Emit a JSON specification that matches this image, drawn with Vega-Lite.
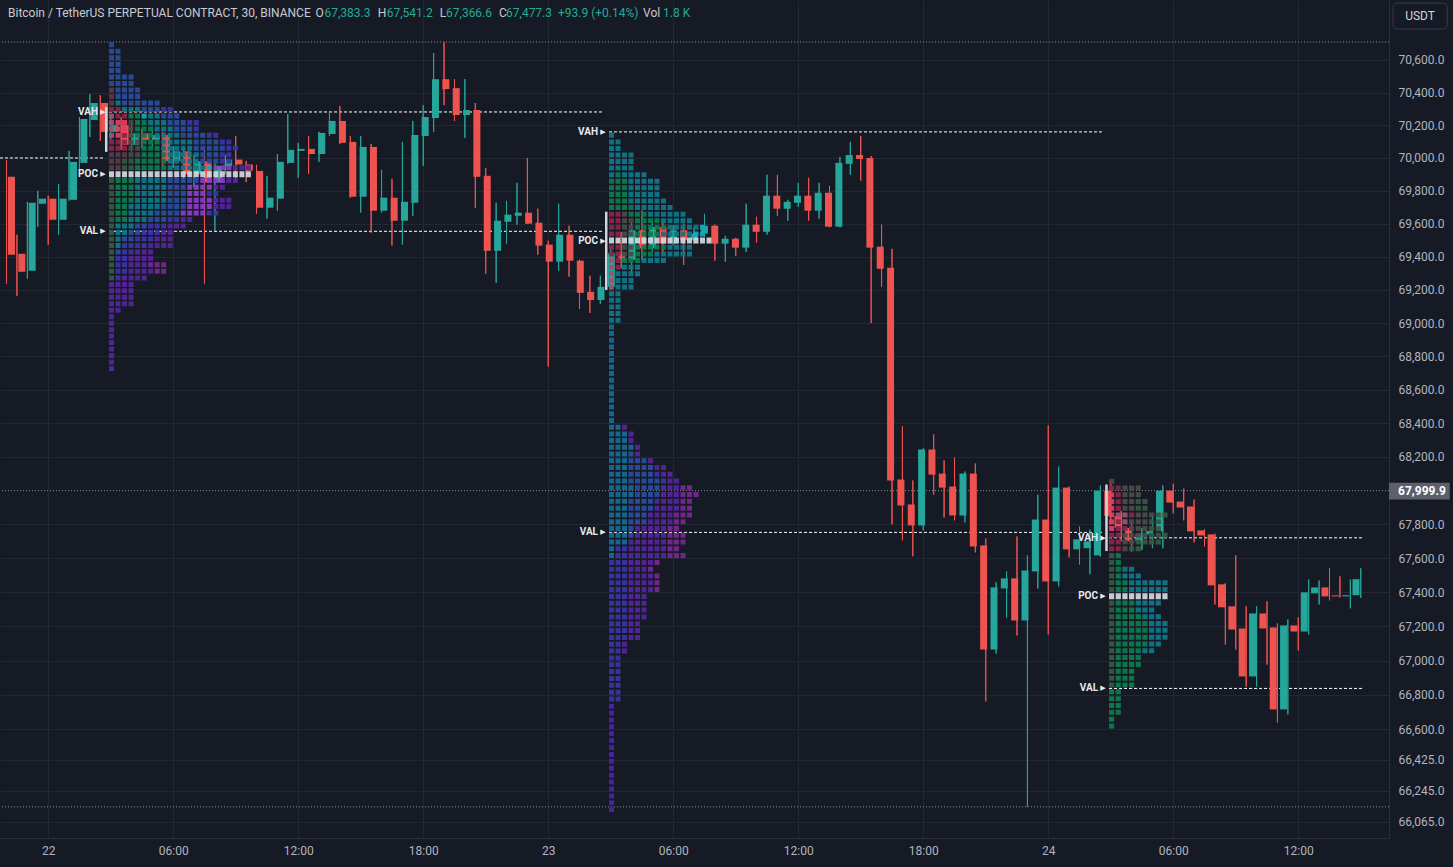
{
"$schema":"https://vega.github.io/schema/vega-lite/v6.json",
"width":1389,"height":838,
"autosize":"none",
"padding":{"left":0,"top":0,"right":64,"bottom":29},
"background":"#161a25",
"config":{"view":{"stroke":null},"axis":{"labelFont":"Roboto","labelFontSize":12,"labelColor":"#b2b5be","gridColor":"#232733","domainColor":"#2a2e39","ticks":false,"title":null,"labelFlush":false,"labelOverlap":false}},
"datasets":{
"candles":[
{"i":-4,"o":69885,"h":69988,"l":69236,"c":69412},
{"i":-3,"o":69418,"h":69533,"l":69164,"c":69309},
{"i":-2,"o":69315,"h":69733,"l":69267,"c":69727},
{"i":-1,"o":69721,"h":69800,"l":69582,"c":69752},
{"i":0,"o":69752,"h":69770,"l":69473,"c":69624},
{"i":1,"o":69624,"h":69842,"l":69533,"c":69752},
{"i":2,"o":69745,"h":70043,"l":69740,"c":69976},
{"i":3,"o":69970,"h":70250,"l":69927,"c":70238},
{"i":4,"o":70232,"h":70390,"l":70128,"c":70336},
{"i":5,"o":70336,"h":70384,"l":70104,"c":70159},
{"i":6,"o":70159,"h":70260,"l":70100,"c":70200},
{"i":7,"o":70200,"h":70250,"l":70050,"c":70080},
{"i":8,"o":70080,"h":70220,"l":70040,"c":70150},
{"i":9,"o":70150,"h":70180,"l":70060,"c":70110},
{"i":10,"o":70110,"h":70190,"l":70070,"c":70140},
{"i":11,"o":70140,"h":70160,"l":69950,"c":69980},
{"i":12,"o":69980,"h":70070,"l":69940,"c":70040},
{"i":13,"o":70040,"h":70060,"l":69850,"c":69900},
{"i":14,"o":69900,"h":70020,"l":69820,"c":69980},
{"i":15,"o":69980,"h":70060,"l":69237,"c":69850},
{"i":16,"o":69850,"h":69990,"l":69557,"c":69950},
{"i":17,"o":69950,"h":70020,"l":69900,"c":69990},
{"i":18,"o":69990,"h":70133,"l":69852,"c":69960},
{"i":19,"o":69960,"h":69982,"l":69852,"c":69922},
{"i":20,"o":69921,"h":69958,"l":69661,"c":69697},
{"i":21,"o":69697,"h":69891,"l":69630,"c":69758},
{"i":22,"o":69752,"h":70024,"l":69679,"c":69976},
{"i":23,"o":69970,"h":70268,"l":69965,"c":70049},
{"i":24,"o":70043,"h":70092,"l":69879,"c":70055},
{"i":25,"o":70055,"h":70134,"l":69903,"c":70024},
{"i":26,"o":70024,"h":70159,"l":69976,"c":70153},
{"i":27,"o":70146,"h":70281,"l":70134,"c":70226},
{"i":28,"o":70226,"h":70317,"l":70085,"c":70092},
{"i":29,"o":70098,"h":70134,"l":69758,"c":69764},
{"i":30,"o":69764,"h":70134,"l":69667,"c":70067},
{"i":31,"o":70067,"h":70085,"l":69545,"c":69679},
{"i":32,"o":69679,"h":69927,"l":69667,"c":69758},
{"i":33,"o":69758,"h":69873,"l":69467,"c":69618},
{"i":34,"o":69618,"h":70098,"l":69473,"c":69733},
{"i":35,"o":69727,"h":70226,"l":69648,"c":70140},
{"i":36,"o":70134,"h":70323,"l":69952,"c":70250},
{"i":37,"o":70244,"h":70643,"l":70159,"c":70482},
{"i":38,"o":70482,"h":70711,"l":70323,"c":70421},
{"i":39,"o":70427,"h":70482,"l":70226,"c":70262},
{"i":40,"o":70262,"h":70482,"l":70122,"c":70293},
{"i":41,"o":70293,"h":70336,"l":69697,"c":69885},
{"i":42,"o":69891,"h":69939,"l":69297,"c":69436},
{"i":43,"o":69436,"h":69727,"l":69242,"c":69618},
{"i":44,"o":69612,"h":69739,"l":69479,"c":69655},
{"i":45,"o":69648,"h":69848,"l":69594,"c":69667},
{"i":46,"o":69667,"h":70000,"l":69598,"c":69600},
{"i":47,"o":69606,"h":69691,"l":69412,"c":69467},
{"i":48,"o":69473,"h":69497,"l":68739,"c":69370},
{"i":49,"o":69370,"h":69721,"l":69315,"c":69533},
{"i":50,"o":69533,"h":69588,"l":69279,"c":69376},
{"i":51,"o":69376,"h":69382,"l":69085,"c":69182},
{"i":52,"o":69188,"h":69285,"l":69061,"c":69139},
{"i":53,"o":69139,"h":69285,"l":69115,"c":69218},
{"i":54,"o":69218,"h":69460,"l":69200,"c":69420},
{"i":55,"o":69420,"h":69550,"l":69330,"c":69380},
{"i":56,"o":69380,"h":69610,"l":69300,"c":69560},
{"i":57,"o":69560,"h":69680,"l":69380,"c":69450},
{"i":58,"o":69450,"h":69620,"l":69430,"c":69580},
{"i":59,"o":69580,"h":69610,"l":69420,"c":69480},
{"i":60,"o":69480,"h":69590,"l":69470,"c":69560},
{"i":61,"o":69560,"h":69600,"l":69350,"c":69500},
{"i":62,"o":69500,"h":69580,"l":69480,"c":69540},
{"i":63,"o":69540,"h":69660,"l":69520,"c":69588},
{"i":64,"o":69588,"h":69594,"l":69376,"c":69479},
{"i":65,"o":69479,"h":69527,"l":69370,"c":69509},
{"i":66,"o":69509,"h":69515,"l":69406,"c":69455},
{"i":67,"o":69455,"h":69721,"l":69430,"c":69594},
{"i":68,"o":69594,"h":69642,"l":69485,"c":69551},
{"i":69,"o":69551,"h":69897,"l":69533,"c":69770},
{"i":70,"o":69770,"h":69897,"l":69648,"c":69691},
{"i":71,"o":69691,"h":69745,"l":69618,"c":69733},
{"i":72,"o":69727,"h":69848,"l":69703,"c":69770},
{"i":73,"o":69770,"h":69879,"l":69618,"c":69679},
{"i":74,"o":69679,"h":69848,"l":69630,"c":69788},
{"i":75,"o":69788,"h":69830,"l":69578,"c":69582},
{"i":76,"o":69582,"h":70006,"l":69578,"c":69970},
{"i":77,"o":69964,"h":70098,"l":69897,"c":70018},
{"i":78,"o":70018,"h":70134,"l":69861,"c":69994},
{"i":79,"o":70000,"h":70012,"l":69000,"c":69455},
{"i":80,"o":69461,"h":69594,"l":69218,"c":69327},
{"i":81,"o":69333,"h":69448,"l":67800,"c":68060},
{"i":82,"o":68066,"h":68381,"l":67706,"c":67912},
{"i":83,"o":67918,"h":68060,"l":67612,"c":67794},
{"i":84,"o":67794,"h":68250,"l":67765,"c":68244},
{"i":85,"o":68244,"h":68334,"l":67976,"c":68095},
{"i":86,"o":68101,"h":68179,"l":67841,"c":68018},
{"i":87,"o":68024,"h":68197,"l":67824,"c":67853},
{"i":88,"o":67853,"h":68113,"l":67812,"c":68101},
{"i":89,"o":68101,"h":68161,"l":67635,"c":67670},
{"i":90,"o":67676,"h":67717,"l":66762,"c":67065},
{"i":91,"o":67065,"h":67459,"l":67041,"c":67429},
{"i":92,"o":67423,"h":67523,"l":67253,"c":67482},
{"i":93,"o":67482,"h":67729,"l":67147,"c":67235},
{"i":94,"o":67235,"h":67617,"l":66152,"c":67529},
{"i":95,"o":67523,"h":67976,"l":67423,"c":67829},
{"i":96,"o":67829,"h":68387,"l":67153,"c":67464},
{"i":97,"o":67464,"h":68143,"l":67435,"c":68018},
{"i":98,"o":68018,"h":68024,"l":67606,"c":67653},
{"i":99,"o":67653,"h":67788,"l":67564,"c":67712},
{"i":100,"o":67660,"h":67770,"l":67506,"c":67700},
{"i":101,"o":67617,"h":68030,"l":67610,"c":68000},
{"i":102,"o":68000,"h":68040,"l":67800,"c":67850},
{"i":103,"o":67850,"h":67880,"l":67700,"c":67780},
{"i":104,"o":67780,"h":67820,"l":67640,"c":67700},
{"i":105,"o":67700,"h":67780,"l":67650,"c":67740},
{"i":106,"o":67740,"h":67850,"l":67660,"c":67760},
{"i":107,"o":67760,"h":68030,"l":67659,"c":68000},
{"i":108,"o":68000,"h":68041,"l":67865,"c":67929},
{"i":109,"o":67935,"h":68012,"l":67824,"c":67900},
{"i":110,"o":67906,"h":67947,"l":67694,"c":67759},
{"i":111,"o":67765,"h":67771,"l":67670,"c":67735},
{"i":112,"o":67741,"h":67745,"l":67329,"c":67441},
{"i":113,"o":67447,"h":67453,"l":67094,"c":67312},
{"i":114,"o":67318,"h":67617,"l":67065,"c":67182},
{"i":115,"o":67188,"h":67318,"l":66849,"c":66908},
{"i":116,"o":66908,"h":67318,"l":66849,"c":67276},
{"i":117,"o":67276,"h":67347,"l":66977,"c":67188},
{"i":118,"o":67194,"h":67217,"l":66640,"c":66716},
{"i":119,"o":66716,"h":67241,"l":66687,"c":67206},
{"i":120,"o":67206,"h":67253,"l":67059,"c":67170},
{"i":121,"o":67170,"h":67476,"l":67153,"c":67400},
{"i":122,"o":67394,"h":67470,"l":67329,"c":67429},
{"i":123,"o":67429,"h":67541,"l":67353,"c":67376},
{"i":124,"o":67382,"h":67494,"l":67370,"c":67376},
{"i":125,"o":67376,"h":67476,"l":67306,"c":67383},
{"i":126,"o":67383.3,"h":67541.2,"l":67366.6,"c":67477.3}
],
"p1":[
{"p":70694,"a":0,"b":1,"k":"B"},
{"p":70654,"a":0,"b":2,"k":"B"},
{"p":70614,"a":0,"b":2,"k":"B"},
{"p":70574,"a":0,"b":2,"k":"B"},
{"p":70535,"a":0,"b":2,"k":"B"},
{"p":70495,"a":0,"b":4,"k":"B"},
{"p":70455,"a":0,"b":4,"k":"B"},
{"p":70415,"a":0,"b":1,"k":"E"},{"p":70415,"a":1,"b":5,"k":"B"},
{"p":70375,"a":0,"b":1,"k":"E"},{"p":70375,"a":1,"b":5,"k":"B"},
{"p":70336,"a":0,"b":1,"k":"E"},{"p":70336,"a":1,"b":2,"k":"T"},{"p":70336,"a":2,"b":8,"k":"B"},
{"p":70296,"a":0,"b":2,"k":"R"},{"p":70296,"a":2,"b":5,"k":"T"},{"p":70296,"a":5,"b":8,"k":"B"},{"p":70296,"a":8,"b":10,"k":"I"},
{"p":70256,"a":0,"b":1,"k":"Q"},{"p":70256,"a":1,"b":3,"k":"R"},{"p":70256,"a":3,"b":5,"k":"G"},{"p":70256,"a":5,"b":6,"k":"C"},{"p":70256,"a":6,"b":8,"k":"T"},{"p":70256,"a":8,"b":11,"k":"B"},
{"p":70217,"a":0,"b":1,"k":"Q"},{"p":70217,"a":1,"b":3,"k":"K"},{"p":70217,"a":3,"b":4,"k":"E"},{"p":70217,"a":4,"b":6,"k":"G"},{"p":70217,"a":6,"b":9,"k":"T"},{"p":70217,"a":9,"b":12,"k":"B"},{"p":70217,"a":12,"b":14,"k":"I"},
{"p":70177,"a":0,"b":1,"k":"Q"},{"p":70177,"a":1,"b":3,"k":"K"},{"p":70177,"a":3,"b":4,"k":"N"},{"p":70177,"a":4,"b":7,"k":"G"},{"p":70177,"a":7,"b":10,"k":"T"},{"p":70177,"a":10,"b":13,"k":"B"},{"p":70177,"a":13,"b":14,"k":"I"},
{"p":70138,"a":0,"b":1,"k":"Q"},{"p":70138,"a":1,"b":2,"k":"K"},{"p":70138,"a":2,"b":3,"k":"R"},{"p":70138,"a":3,"b":4,"k":"N"},{"p":70138,"a":4,"b":7,"k":"G"},{"p":70138,"a":7,"b":11,"k":"T"},{"p":70138,"a":11,"b":15,"k":"B"},{"p":70138,"a":15,"b":17,"k":"I"},
{"p":70098,"a":0,"b":3,"k":"R"},{"p":70098,"a":3,"b":5,"k":"N"},{"p":70098,"a":5,"b":8,"k":"G"},{"p":70098,"a":8,"b":13,"k":"T"},{"p":70098,"a":13,"b":17,"k":"B"},{"p":70098,"a":17,"b":19,"k":"I"},
{"p":70059,"a":0,"b":3,"k":"R"},{"p":70059,"a":3,"b":5,"k":"N"},{"p":70059,"a":5,"b":8,"k":"G"},{"p":70059,"a":8,"b":13,"k":"T"},{"p":70059,"a":13,"b":18,"k":"B"},{"p":70059,"a":18,"b":20,"k":"I"},
{"p":70019,"a":0,"b":3,"k":"E"},{"p":70019,"a":3,"b":5,"k":"N"},{"p":70019,"a":5,"b":9,"k":"G"},{"p":70019,"a":9,"b":14,"k":"T"},{"p":70019,"a":14,"b":17,"k":"B"},{"p":70019,"a":17,"b":19,"k":"I"},
{"p":69980,"a":0,"b":2,"k":"E"},{"p":69980,"a":2,"b":4,"k":"D"},{"p":69980,"a":4,"b":9,"k":"G"},{"p":69980,"a":9,"b":14,"k":"T"},{"p":69980,"a":14,"b":17,"k":"B"},{"p":69980,"a":17,"b":19,"k":"I"},
{"p":69940,"a":0,"b":2,"k":"E"},{"p":69940,"a":2,"b":4,"k":"D"},{"p":69940,"a":4,"b":9,"k":"G"},{"p":69940,"a":9,"b":15,"k":"T"},{"p":69940,"a":15,"b":16,"k":"C"},{"p":69940,"a":16,"b":19,"k":"V"},{"p":69940,"a":19,"b":22,"k":"P"},
{"p":69901,"a":0,"b":22,"k":"W"},
{"p":69862,"a":0,"b":1,"k":"D"},{"p":69862,"a":1,"b":4,"k":"G"},{"p":69862,"a":4,"b":9,"k":"T"},{"p":69862,"a":9,"b":14,"k":"B"},{"p":69862,"a":14,"b":18,"k":"V"},{"p":69862,"a":18,"b":20,"k":"P"},
{"p":69822,"a":0,"b":1,"k":"D"},{"p":69822,"a":1,"b":4,"k":"G"},{"p":69822,"a":4,"b":9,"k":"T"},{"p":69822,"a":9,"b":12,"k":"B"},{"p":69822,"a":12,"b":16,"k":"V"},{"p":69822,"a":16,"b":18,"k":"P"},
{"p":69783,"a":0,"b":1,"k":"D"},{"p":69783,"a":1,"b":4,"k":"G"},{"p":69783,"a":4,"b":9,"k":"T"},{"p":69783,"a":9,"b":12,"k":"B"},{"p":69783,"a":12,"b":15,"k":"V"},{"p":69783,"a":15,"b":17,"k":"I"},
{"p":69743,"a":0,"b":1,"k":"D"},{"p":69743,"a":1,"b":4,"k":"G"},{"p":69743,"a":4,"b":9,"k":"T"},{"p":69743,"a":9,"b":12,"k":"B"},{"p":69743,"a":12,"b":16,"k":"V"},{"p":69743,"a":16,"b":19,"k":"P"},
{"p":69704,"a":0,"b":1,"k":"D"},{"p":69704,"a":1,"b":3,"k":"G"},{"p":69704,"a":3,"b":8,"k":"T"},{"p":69704,"a":8,"b":12,"k":"B"},{"p":69704,"a":12,"b":16,"k":"V"},{"p":69704,"a":16,"b":19,"k":"P"},
{"p":69665,"a":0,"b":1,"k":"D"},{"p":69665,"a":1,"b":3,"k":"G"},{"p":69665,"a":3,"b":7,"k":"T"},{"p":69665,"a":7,"b":11,"k":"B"},{"p":69665,"a":11,"b":15,"k":"V"},{"p":69665,"a":15,"b":17,"k":"I"},
{"p":69625,"a":0,"b":1,"k":"D"},{"p":69625,"a":1,"b":3,"k":"G"},{"p":69625,"a":3,"b":6,"k":"T"},{"p":69625,"a":6,"b":9,"k":"B"},{"p":69625,"a":9,"b":11,"k":"I"},{"p":69625,"a":11,"b":13,"k":"P"},
{"p":69586,"a":0,"b":1,"k":"D"},{"p":69586,"a":1,"b":4,"k":"T"},{"p":69586,"a":4,"b":6,"k":"B"},{"p":69586,"a":6,"b":9,"k":"I"},{"p":69586,"a":9,"b":12,"k":"P"},
{"p":69546,"a":0,"b":1,"k":"D"},{"p":69546,"a":1,"b":3,"k":"T"},{"p":69546,"a":3,"b":5,"k":"B"},{"p":69546,"a":5,"b":8,"k":"I"},{"p":69546,"a":8,"b":10,"k":"P"},
{"p":69507,"a":0,"b":1,"k":"D"},{"p":69507,"a":1,"b":2,"k":"T"},{"p":69507,"a":2,"b":4,"k":"B"},{"p":69507,"a":4,"b":7,"k":"I"},{"p":69507,"a":7,"b":10,"k":"P"},
{"p":69468,"a":0,"b":1,"k":"D"},{"p":69468,"a":1,"b":2,"k":"T"},{"p":69468,"a":2,"b":6,"k":"I"},{"p":69468,"a":6,"b":10,"k":"P"},
{"p":69429,"a":0,"b":1,"k":"D"},{"p":69429,"a":1,"b":2,"k":"B"},{"p":69429,"a":2,"b":4,"k":"I"},{"p":69429,"a":4,"b":7,"k":"P"},
{"p":69390,"a":0,"b":1,"k":"D"},{"p":69390,"a":1,"b":3,"k":"I"},{"p":69390,"a":3,"b":7,"k":"P"},
{"p":69351,"a":0,"b":1,"k":"D"},{"p":69351,"a":1,"b":3,"k":"I"},{"p":69351,"a":3,"b":6,"k":"P"},{"p":69351,"a":6,"b":9,"k":"M"},
{"p":69312,"a":0,"b":1,"k":"D"},{"p":69312,"a":1,"b":3,"k":"I"},{"p":69312,"a":3,"b":7,"k":"P"},{"p":69312,"a":7,"b":9,"k":"M"},
{"p":69272,"a":0,"b":1,"k":"D"},{"p":69272,"a":1,"b":2,"k":"I"},{"p":69272,"a":2,"b":6,"k":"P"},
{"p":69233,"a":0,"b":4,"k":"P"},
{"p":69194,"a":0,"b":4,"k":"P"},
{"p":69155,"a":0,"b":4,"k":"P"},
{"p":69116,"a":0,"b":4,"k":"P"},
{"p":69077,"a":0,"b":2,"k":"P"},
{"p":69038,"a":0,"b":1,"k":"P"},
{"p":68999,"a":0,"b":1,"k":"P"},
{"p":68960,"a":0,"b":1,"k":"P"},
{"p":68922,"a":0,"b":1,"k":"P"},
{"p":68883,"a":0,"b":1,"k":"P"},
{"p":68844,"a":0,"b":1,"k":"P"},
{"p":68805,"a":0,"b":1,"k":"P"},
{"p":68766,"a":0,"b":1,"k":"P"},
{"p":68727,"a":0,"b":1,"k":"P"}
],
"p2":[
{"p":70138,"a":0,"b":1,"k":"T"},
{"p":70098,"a":0,"b":2,"k":"T"},
{"p":70058,"a":0,"b":2,"k":"T"},
{"p":70018,"a":0,"b":4,"k":"T"},
{"p":69978,"a":0,"b":4,"k":"T"},
{"p":69938,"a":0,"b":4,"k":"T"},
{"p":69898,"a":0,"b":1,"k":"T"},{"p":69898,"a":1,"b":2,"k":"G"},{"p":69898,"a":2,"b":6,"k":"T"},
{"p":69858,"a":0,"b":3,"k":"G"},{"p":69858,"a":3,"b":8,"k":"T"},
{"p":69818,"a":0,"b":3,"k":"G"},{"p":69818,"a":3,"b":8,"k":"T"},
{"p":69778,"a":0,"b":3,"k":"G"},{"p":69778,"a":3,"b":8,"k":"T"},
{"p":69738,"a":0,"b":3,"k":"G"},{"p":69738,"a":3,"b":9,"k":"T"},
{"p":69698,"a":0,"b":4,"k":"G"},{"p":69698,"a":4,"b":10,"k":"T"},
{"p":69658,"a":0,"b":2,"k":"R"},{"p":69658,"a":2,"b":3,"k":"N"},{"p":69658,"a":3,"b":6,"k":"G"},{"p":69658,"a":6,"b":12,"k":"T"},
{"p":69618,"a":0,"b":2,"k":"R"},{"p":69618,"a":2,"b":4,"k":"N"},{"p":69618,"a":4,"b":8,"k":"G"},{"p":69618,"a":8,"b":13,"k":"T"},
{"p":69578,"a":0,"b":2,"k":"R"},{"p":69578,"a":2,"b":4,"k":"N"},{"p":69578,"a":4,"b":9,"k":"G"},{"p":69578,"a":9,"b":14,"k":"T"},{"p":69578,"a":14,"b":15,"k":"C"},
{"p":69538,"a":0,"b":2,"k":"R"},{"p":69538,"a":2,"b":4,"k":"N"},{"p":69538,"a":4,"b":8,"k":"G"},{"p":69538,"a":8,"b":13,"k":"T"},{"p":69538,"a":13,"b":15,"k":"C"},
{"p":69498,"a":0,"b":16,"k":"W"},
{"p":69457,"a":0,"b":2,"k":"R"},{"p":69457,"a":2,"b":4,"k":"N"},{"p":69457,"a":4,"b":9,"k":"G"},{"p":69457,"a":9,"b":13,"k":"T"},
{"p":69417,"a":0,"b":2,"k":"R"},{"p":69417,"a":2,"b":4,"k":"N"},{"p":69417,"a":4,"b":7,"k":"G"},{"p":69417,"a":7,"b":13,"k":"T"},
{"p":69377,"a":0,"b":1,"k":"Q"},{"p":69377,"a":1,"b":2,"k":"R"},{"p":69377,"a":2,"b":5,"k":"G"},{"p":69377,"a":5,"b":9,"k":"T"},
{"p":69337,"a":0,"b":1,"k":"Q"},{"p":69337,"a":1,"b":2,"k":"R"},{"p":69337,"a":2,"b":5,"k":"T"},
{"p":69297,"a":0,"b":1,"k":"Q"},{"p":69297,"a":1,"b":5,"k":"T"},
{"p":69257,"a":0,"b":1,"k":"Q"},{"p":69257,"a":1,"b":4,"k":"T"},
{"p":69217,"a":0,"b":1,"k":"Q"},{"p":69217,"a":1,"b":4,"k":"T"},
{"p":69177,"a":0,"b":2,"k":"T"},
{"p":69137,"a":0,"b":2,"k":"T"},
{"p":69097,"a":0,"b":2,"k":"T"},
{"p":69057,"a":0,"b":2,"k":"T"},
{"p":69017,"a":0,"b":2,"k":"T"},
{"p":68977,"a":0,"b":1,"k":"U"},
{"p":68937,"a":0,"b":1,"k":"U"},
{"p":68897,"a":0,"b":1,"k":"U"},
{"p":68857,"a":0,"b":1,"k":"U"},
{"p":68817,"a":0,"b":1,"k":"U"},
{"p":68777,"a":0,"b":1,"k":"U"},
{"p":68737,"a":0,"b":1,"k":"U"},
{"p":68697,"a":0,"b":1,"k":"U"},
{"p":68657,"a":0,"b":1,"k":"U"},
{"p":68617,"a":0,"b":1,"k":"U"},
{"p":68577,"a":0,"b":1,"k":"U"},
{"p":68537,"a":0,"b":1,"k":"U"},
{"p":68497,"a":0,"b":1,"k":"U"},
{"p":68457,"a":0,"b":1,"k":"U"},
{"p":68417,"a":0,"b":1,"k":"U"},
{"p":68377,"a":0,"b":2,"k":"U"},{"p":68377,"a":2,"b":3,"k":"P"},
{"p":68337,"a":0,"b":3,"k":"U"},{"p":68337,"a":3,"b":4,"k":"P"},
{"p":68297,"a":0,"b":3,"k":"U"},{"p":68297,"a":3,"b":4,"k":"P"},
{"p":68257,"a":0,"b":4,"k":"U"},{"p":68257,"a":4,"b":5,"k":"P"},
{"p":68217,"a":0,"b":3,"k":"U"},{"p":68217,"a":3,"b":4,"k":"B"},{"p":68217,"a":4,"b":5,"k":"P"},
{"p":68177,"a":0,"b":3,"k":"U"},{"p":68177,"a":3,"b":6,"k":"B"},{"p":68177,"a":6,"b":7,"k":"P"},
{"p":68137,"a":0,"b":3,"k":"U"},{"p":68137,"a":3,"b":7,"k":"B"},{"p":68137,"a":7,"b":9,"k":"P"},
{"p":68097,"a":0,"b":3,"k":"U"},{"p":68097,"a":3,"b":7,"k":"B"},{"p":68097,"a":7,"b":8,"k":"I"},{"p":68097,"a":8,"b":10,"k":"P"},
{"p":68057,"a":0,"b":3,"k":"U"},{"p":68057,"a":3,"b":8,"k":"B"},{"p":68057,"a":8,"b":9,"k":"I"},{"p":68057,"a":9,"b":11,"k":"P"},
{"p":68017,"a":0,"b":4,"k":"U"},{"p":68017,"a":4,"b":8,"k":"B"},{"p":68017,"a":8,"b":11,"k":"P"},{"p":68017,"a":11,"b":13,"k":"M"},
{"p":67977,"a":0,"b":4,"k":"U"},{"p":67977,"a":4,"b":8,"k":"B"},{"p":67977,"a":8,"b":11,"k":"P"},{"p":67977,"a":11,"b":14,"k":"M"},
{"p":67937,"a":0,"b":3,"k":"U"},{"p":67937,"a":3,"b":7,"k":"B"},{"p":67937,"a":7,"b":11,"k":"P"},{"p":67937,"a":11,"b":13,"k":"M"},
{"p":67896,"a":0,"b":3,"k":"U"},{"p":67896,"a":3,"b":7,"k":"B"},{"p":67896,"a":7,"b":11,"k":"P"},{"p":67896,"a":11,"b":13,"k":"M"},
{"p":67856,"a":0,"b":3,"k":"U"},{"p":67856,"a":3,"b":6,"k":"B"},{"p":67856,"a":6,"b":10,"k":"P"},{"p":67856,"a":10,"b":13,"k":"M"},
{"p":67816,"a":0,"b":3,"k":"U"},{"p":67816,"a":3,"b":6,"k":"B"},{"p":67816,"a":6,"b":10,"k":"P"},{"p":67816,"a":10,"b":12,"k":"M"},
{"p":67776,"a":0,"b":3,"k":"U"},{"p":67776,"a":3,"b":4,"k":"B"},{"p":67776,"a":4,"b":9,"k":"P"},{"p":67776,"a":9,"b":11,"k":"M"},
{"p":67736,"a":0,"b":3,"k":"U"},{"p":67736,"a":3,"b":4,"k":"B"},{"p":67736,"a":4,"b":9,"k":"P"},{"p":67736,"a":9,"b":12,"k":"M"},
{"p":67696,"a":0,"b":3,"k":"U"},{"p":67696,"a":3,"b":9,"k":"P"},{"p":67696,"a":9,"b":12,"k":"M"},
{"p":67656,"a":0,"b":1,"k":"U"},{"p":67656,"a":1,"b":3,"k":"I"},{"p":67656,"a":3,"b":9,"k":"P"},{"p":67656,"a":9,"b":11,"k":"M"},
{"p":67616,"a":0,"b":1,"k":"U"},{"p":67616,"a":1,"b":3,"k":"I"},{"p":67616,"a":3,"b":9,"k":"P"},{"p":67616,"a":9,"b":12,"k":"M"},
{"p":67576,"a":0,"b":3,"k":"I"},{"p":67576,"a":3,"b":7,"k":"P"},{"p":67576,"a":7,"b":8,"k":"M"},
{"p":67536,"a":0,"b":3,"k":"I"},{"p":67536,"a":3,"b":6,"k":"P"},{"p":67536,"a":6,"b":7,"k":"M"},
{"p":67496,"a":0,"b":3,"k":"I"},{"p":67496,"a":3,"b":7,"k":"P"},{"p":67496,"a":7,"b":8,"k":"M"},
{"p":67456,"a":0,"b":3,"k":"I"},{"p":67456,"a":3,"b":7,"k":"P"},{"p":67456,"a":7,"b":8,"k":"M"},
{"p":67416,"a":0,"b":3,"k":"I"},{"p":67416,"a":3,"b":7,"k":"P"},{"p":67416,"a":7,"b":8,"k":"M"},
{"p":67376,"a":0,"b":3,"k":"I"},{"p":67376,"a":3,"b":6,"k":"P"},
{"p":67336,"a":0,"b":3,"k":"I"},{"p":67336,"a":3,"b":6,"k":"P"},
{"p":67296,"a":0,"b":3,"k":"I"},{"p":67296,"a":3,"b":6,"k":"P"},
{"p":67256,"a":0,"b":3,"k":"I"},{"p":67256,"a":3,"b":6,"k":"P"},
{"p":67216,"a":0,"b":3,"k":"I"},{"p":67216,"a":3,"b":5,"k":"P"},
{"p":67176,"a":0,"b":3,"k":"I"},{"p":67176,"a":3,"b":5,"k":"P"},
{"p":67136,"a":0,"b":3,"k":"I"},{"p":67136,"a":3,"b":5,"k":"P"},
{"p":67096,"a":0,"b":2,"k":"I"},{"p":67096,"a":2,"b":3,"k":"P"},
{"p":67056,"a":0,"b":2,"k":"I"},{"p":67056,"a":2,"b":3,"k":"P"},
{"p":67016,"a":0,"b":2,"k":"I"},
{"p":66976,"a":0,"b":2,"k":"I"},
{"p":66936,"a":0,"b":2,"k":"I"},
{"p":66896,"a":0,"b":2,"k":"I"},
{"p":66856,"a":0,"b":2,"k":"I"},
{"p":66816,"a":0,"b":2,"k":"I"},
{"p":66776,"a":0,"b":2,"k":"I"},
{"p":66735,"a":0,"b":1,"k":"J"},
{"p":66695,"a":0,"b":1,"k":"J"},
{"p":66655,"a":0,"b":1,"k":"J"},
{"p":66615,"a":0,"b":1,"k":"J"},
{"p":66575,"a":0,"b":1,"k":"J"},
{"p":66535,"a":0,"b":1,"k":"J"},
{"p":66495,"a":0,"b":1,"k":"J"},
{"p":66455,"a":0,"b":1,"k":"J"},
{"p":66415,"a":0,"b":1,"k":"J"},
{"p":66375,"a":0,"b":1,"k":"J"},
{"p":66335,"a":0,"b":1,"k":"J"},
{"p":66295,"a":0,"b":1,"k":"J"},
{"p":66255,"a":0,"b":1,"k":"J"},
{"p":66215,"a":0,"b":1,"k":"J"},
{"p":66175,"a":0,"b":1,"k":"J"},
{"p":66135,"a":0,"b":1,"k":"J"}
],
"p3":[
{"p":68055,"a":0,"b":1,"k":"N"},
{"p":68015,"a":0,"b":1,"k":"R"},{"p":68015,"a":1,"b":2,"k":"E"},{"p":68015,"a":2,"b":5,"k":"N"},
{"p":67975,"a":0,"b":1,"k":"K"},{"p":67975,"a":1,"b":2,"k":"R"},{"p":67975,"a":2,"b":5,"k":"N"},
{"p":67935,"a":0,"b":1,"k":"K"},{"p":67935,"a":1,"b":2,"k":"R"},{"p":67935,"a":2,"b":4,"k":"N"},{"p":67935,"a":4,"b":6,"k":"D"},
{"p":67895,"a":0,"b":1,"k":"K"},{"p":67895,"a":1,"b":2,"k":"R"},{"p":67895,"a":2,"b":4,"k":"N"},{"p":67895,"a":4,"b":6,"k":"D"},
{"p":67856,"a":0,"b":1,"k":"K"},{"p":67856,"a":1,"b":3,"k":"Q"},{"p":67856,"a":3,"b":4,"k":"R"},{"p":67856,"a":4,"b":7,"k":"N"},{"p":67856,"a":7,"b":9,"k":"D"},
{"p":67816,"a":0,"b":1,"k":"K"},{"p":67816,"a":1,"b":2,"k":"R"},{"p":67816,"a":2,"b":3,"k":"Q"},{"p":67816,"a":3,"b":6,"k":"N"},{"p":67816,"a":6,"b":8,"k":"D"},
{"p":67776,"a":0,"b":1,"k":"K"},{"p":67776,"a":1,"b":3,"k":"R"},{"p":67776,"a":3,"b":6,"k":"N"},{"p":67776,"a":6,"b":8,"k":"D"},
{"p":67736,"a":0,"b":2,"k":"R"},{"p":67736,"a":2,"b":5,"k":"N"},{"p":67736,"a":5,"b":9,"k":"D"},
{"p":67696,"a":0,"b":2,"k":"R"},{"p":67696,"a":2,"b":4,"k":"N"},{"p":67696,"a":4,"b":8,"k":"D"},
{"p":67656,"a":0,"b":2,"k":"R"},{"p":67656,"a":2,"b":3,"k":"N"},{"p":67656,"a":3,"b":5,"k":"D"},
{"p":67616,"a":0,"b":1,"k":"D"},{"p":67616,"a":1,"b":2,"k":"G"},
{"p":67576,"a":0,"b":1,"k":"D"},{"p":67576,"a":1,"b":2,"k":"G"},
{"p":67536,"a":0,"b":1,"k":"D"},{"p":67536,"a":1,"b":2,"k":"G"},{"p":67536,"a":2,"b":4,"k":"T"},
{"p":67496,"a":0,"b":1,"k":"D"},{"p":67496,"a":1,"b":2,"k":"G"},{"p":67496,"a":2,"b":5,"k":"T"},
{"p":67457,"a":0,"b":1,"k":"D"},{"p":67457,"a":1,"b":3,"k":"G"},{"p":67457,"a":3,"b":9,"k":"T"},
{"p":67417,"a":0,"b":1,"k":"D"},{"p":67417,"a":1,"b":3,"k":"G"},{"p":67417,"a":3,"b":9,"k":"T"},
{"p":67377,"a":0,"b":9,"k":"W"},
{"p":67337,"a":0,"b":1,"k":"D"},{"p":67337,"a":1,"b":4,"k":"G"},{"p":67337,"a":4,"b":8,"k":"T"},
{"p":67297,"a":0,"b":1,"k":"D"},{"p":67297,"a":1,"b":4,"k":"G"},{"p":67297,"a":4,"b":7,"k":"T"},
{"p":67257,"a":0,"b":1,"k":"D"},{"p":67257,"a":1,"b":5,"k":"G"},{"p":67257,"a":5,"b":8,"k":"T"},
{"p":67217,"a":0,"b":1,"k":"D"},{"p":67217,"a":1,"b":6,"k":"G"},{"p":67217,"a":6,"b":9,"k":"T"},
{"p":67177,"a":0,"b":1,"k":"D"},{"p":67177,"a":1,"b":6,"k":"G"},{"p":67177,"a":6,"b":9,"k":"T"},
{"p":67137,"a":0,"b":1,"k":"D"},{"p":67137,"a":1,"b":6,"k":"G"},{"p":67137,"a":6,"b":9,"k":"T"},
{"p":67098,"a":0,"b":1,"k":"D"},{"p":67098,"a":1,"b":6,"k":"G"},{"p":67098,"a":6,"b":8,"k":"T"},
{"p":67058,"a":0,"b":1,"k":"D"},{"p":67058,"a":1,"b":5,"k":"G"},{"p":67058,"a":5,"b":7,"k":"T"},
{"p":67018,"a":0,"b":1,"k":"D"},{"p":67018,"a":1,"b":5,"k":"G"},
{"p":66978,"a":0,"b":1,"k":"D"},{"p":66978,"a":1,"b":5,"k":"G"},
{"p":66938,"a":0,"b":1,"k":"D"},{"p":66938,"a":1,"b":4,"k":"G"},
{"p":66898,"a":0,"b":1,"k":"D"},{"p":66898,"a":1,"b":4,"k":"G"},
{"p":66858,"a":0,"b":1,"k":"D"},{"p":66858,"a":1,"b":4,"k":"G"},
{"p":66818,"a":0,"b":2,"k":"G"},
{"p":66778,"a":0,"b":2,"k":"G"},
{"p":66738,"a":0,"b":2,"k":"G"},
{"p":66699,"a":0,"b":2,"k":"G"},
{"p":66659,"a":0,"b":1,"k":"G"},
{"p":66619,"a":0,"b":1,"k":"G"}
],
"lev":[
{"t":"VAH","p":70281,"x0":5.837,"x1":53.26},
{"t":"POC","p":69901,"x0":5.837,"x1":5.837},
{"t":"VAL","p":69554,"x0":5.837,"x1":53.26},
{"t":"VAH","p":70159,"x0":53.836,"x1":101.26},
{"t":"POC","p":69498,"x0":53.836,"x1":53.836},
{"t":"VAL","p":67753,"x0":53.836,"x1":101.26},
{"t":"VAH","p":67721,"x0":101.835,"x1":126.2},
{"t":"POC","p":67377,"x0":101.835,"x1":101.835},
{"t":"VAL","p":66838,"x0":101.835,"x1":126.2},
{"t":"","p":70000,"x0":-4.63,"x1":5.27}
],
"wb":[
{"x":5.568,"p0":70311,"p1":70037},
{"x":53.568,"p0":69673,"p1":69200},
{"x":101.59,"p0":68036,"p1":67643}
],
"hl":[{"p":70711},{"p":66152},{"p":67999.9}]
},
"resolve":{"scale":{"x":"independent"}},
"layer":[
{"data":{"name":"candles"},"mark":{"type":"rule","strokeWidth":1},
 "encoding":{
  "x":{"field":"i","type":"quantitative","scale":{"domain":[-4.627,128.71],"nice":false,"zero":false},
   "axis":{"orient":"bottom","values":[0,12,24,36,48,60,72,84,96,108,120],"labelExpr":"['22','06:00','12:00','18:00','23','06:00','12:00','18:00','24','06:00','12:00'][round(datum.value/12)]","grid":true,"labelPadding":7,"domain":true,"title":null}},
  "y":{"field":"l","type":"quantitative","scale":{"type":"log","domain":[65972.6,70970],"nice":false},
   "axis":{"orient":"right","values":[66065,66245,66425,66600,66800,67000,67200,67400,67600,67800,68200,68400,68600,68800,69000,69200,69400,69600,69800,70000,70200,70400,70600],"labelExpr":"format(datum.value, ',.1f')","grid":true,"labelPadding":9,"domain":true,"title":null}},
  "y2":{"field":"h"},
  "color":{"condition":{"test":"datum.c >= datum.o","value":"#26a69a"},"value":"#ef5350"}}},
{"data":{"name":"hl"},"mark":{"type":"rule","strokeDash":[1,2],"strokeWidth":1,"color":"#8a8d96"},
 "encoding":{"y":{"field":"p","type":"quantitative","scale":{"type":"log","domain":[65972.6,70970],"nice":false}}}},
{"data":{"name":"lev"},"transform":[{"filter":"datum.x1 > datum.x0"}],
 "mark":{"type":"rule","strokeDash":[3,2],"strokeWidth":1,"color":"#ffffff"},
 "encoding":{"x":{"field":"x0","type":"quantitative","scale":{"domain":[-4.627,128.71],"nice":false,"zero":false},"axis":null},"x2":{"field":"x1"},
 "y":{"field":"p","type":"quantitative","scale":{"type":"log","domain":[65972.6,70970],"nice":false}}}},
{"data":{"name":"candles"},"mark":{"type":"rule","strokeWidth":1},
 "encoding":{
  "x":{"field":"i","type":"quantitative","scale":{"domain":[-4.627,128.71],"nice":false,"zero":false},"axis":null},
  "y":{"field":"l","type":"quantitative","scale":{"type":"log","domain":[65972.6,70970],"nice":false}},
  "y2":{"field":"h"},
  "color":{"condition":{"test":"datum.c >= datum.o","value":"#26a69a"},"value":"#ef5350"}}},
{"data":{"name":"candles"},"mark":{"type":"bar","size":7},
 "encoding":{
  "x":{"field":"i","type":"quantitative","scale":{"domain":[-4.627,128.71],"nice":false,"zero":false},"axis":null},
  "y":{"field":"o","type":"quantitative","scale":{"type":"log","domain":[65972.6,70970],"nice":false}},
  "y2":{"field":"c"},
  "color":{"condition":{"test":"datum.c >= datum.o","value":"#26a69a"},"value":"#ef5350"}}},
{"data":{"name":"p1"},"mark":{"type":"rule","strokeDash":[5,1.52],"opacity":0.95},
 "encoding":{
  "x":{"field":"a","type":"quantitative","scale":{"domain":[-16.718,196.319],"nice":false,"zero":false},"axis":null},
  "x2":{"field":"b"},
  "y":{"field":"p","type":"quantitative","scale":{"type":"log","domain":[65972.6,70970],"nice":false}},
  "color":{"field":"k","type":"nominal","legend":null,"scale":{"domain":["W","B","I","P","M","V","T","U","C","G","D","N","R","K","Q","E","J"],"range":["#d1d4dc","#2b4c9b","#3b33a3","#54249b","#76278f","#8a3cc0","#0f7686","#146a90","#12a8b8","#0d7a4d","#355840","#4b4a47","#8c2449","#e23b63","#a3506f","#5b3a43","#4a22a6"]}},
  "strokeWidth":{"condition":{"test":"datum.k === 'W'","value":6},"value":5}}},
{"data":{"name":"p2"},"mark":{"type":"rule","strokeDash":[5,1.5],"opacity":0.95},
 "encoding":{
  "x":{"field":"a","type":"quantitative","scale":{"domain":[-93.692,120.0],"nice":false,"zero":false},"axis":null},
  "x2":{"field":"b"},
  "y":{"field":"p","type":"quantitative","scale":{"type":"log","domain":[65972.6,70970],"nice":false}},
  "color":{"field":"k","type":"nominal","legend":null,"scale":{"domain":["W","B","I","P","M","V","T","U","C","G","D","N","R","K","Q","E","J"],"range":["#d1d4dc","#2b4c9b","#3b33a3","#54249b","#76278f","#8a3cc0","#0f7686","#146a90","#12a8b8","#0d7a4d","#355840","#4b4a47","#8c2449","#e23b63","#a3506f","#5b3a43","#4a22a6"]}},
  "strokeWidth":{"condition":{"test":"datum.k === 'W'","value":6},"value":5}}},
{"data":{"name":"p3"},"mark":{"type":"rule","strokeDash":[5.2,1.47],"opacity":0.95},
 "encoding":{
  "x":{"field":"a","type":"quantitative","scale":{"domain":[-166.267,41.979],"nice":false,"zero":false},"axis":null},
  "x2":{"field":"b"},
  "y":{"field":"p","type":"quantitative","scale":{"type":"log","domain":[65972.6,70970],"nice":false}},
  "color":{"field":"k","type":"nominal","legend":null,"scale":{"domain":["W","B","I","P","M","V","T","U","C","G","D","N","R","K","Q","E","J"],"range":["#d1d4dc","#2b4c9b","#3b33a3","#54249b","#76278f","#8a3cc0","#0f7686","#146a90","#12a8b8","#0d7a4d","#355840","#4b4a47","#8c2449","#e23b63","#a3506f","#5b3a43","#4a22a6"]}},
  "strokeWidth":{"condition":{"test":"datum.k === 'W'","value":6},"value":5}}},
{"data":{"name":"wb"},"mark":{"type":"rule","strokeWidth":2.5,"color":"#d1d4dc"},
 "encoding":{
  "x":{"field":"x","type":"quantitative","scale":{"domain":[-4.627,128.71],"nice":false,"zero":false},"axis":null},
  "y":{"field":"p0","type":"quantitative","scale":{"type":"log","domain":[65972.6,70970],"nice":false}},
  "y2":{"field":"p1"}}},
{"data":{"name":"lev"},"transform":[{"filter":"datum.t != ''"}],
 "mark":{"type":"text","align":"right","baseline":"middle","dx":-11,"font":"Roboto","fontSize":10,"fontWeight":"bold","color":"#e6e8ee"},
 "encoding":{
  "x":{"field":"x0","type":"quantitative","scale":{"domain":[-4.627,128.71],"nice":false,"zero":false},"axis":null},
  "y":{"field":"p","type":"quantitative","scale":{"type":"log","domain":[65972.6,70970],"nice":false}},
  "text":{"field":"t"}}},
{"data":{"name":"lev"},"transform":[{"filter":"datum.t != ''"}],
 "mark":{"type":"text","align":"center","baseline":"middle","dx":-6,"font":"DejaVu Sans","fontSize":7,"text":"▶","color":"#e6e8ee"},
 "encoding":{
  "x":{"field":"x0","type":"quantitative","scale":{"domain":[-4.627,128.71],"nice":false,"zero":false},"axis":null},
  "y":{"field":"p","type":"quantitative","scale":{"type":"log","domain":[65972.6,70970],"nice":false}}}},
{"data":{"values":[{}]},"mark":{"type":"text","align":"left","baseline":"middle","font":"Roboto","fontSize":12,"color":"#c8cbd3","text":"Bitcoin / TetherUS PERPETUAL CONTRACT, 30, BINANCE"},
 "encoding":{"x":{"datum":-3.859,"type":"quantitative","scale":{"domain":[-4.627,128.71],"nice":false,"zero":false},"axis":null},
  "y":{"datum":70890,"type":"quantitative","scale":{"type":"log","domain":[65972.6,70970],"nice":false}}}},
{"data":{"values":[{}]},"mark":{"type":"text","align":"left","baseline":"middle","font":"Roboto","fontSize":12,"color":"#c8cbd3","text":"O"},
 "encoding":{"x":{"datum":25.67,"type":"quantitative","scale":{"domain":[-4.627,128.71],"nice":false,"zero":false},"axis":null},
  "y":{"datum":70890,"type":"quantitative","scale":{"type":"log","domain":[65972.6,70970],"nice":false}}}},
{"data":{"values":[{}]},"mark":{"type":"text","align":"left","baseline":"middle","font":"Roboto","fontSize":12,"color":"#22ab94","text":"67,383.3"},
 "encoding":{"x":{"datum":26.52,"type":"quantitative","scale":{"domain":[-4.627,128.71],"nice":false,"zero":false},"axis":null},
  "y":{"datum":70890,"type":"quantitative","scale":{"type":"log","domain":[65972.6,70970],"nice":false}}}},
{"data":{"values":[{}]},"mark":{"type":"text","align":"left","baseline":"middle","font":"Roboto","fontSize":12,"color":"#c8cbd3","text":"H"},
 "encoding":{"x":{"datum":31.63,"type":"quantitative","scale":{"domain":[-4.627,128.71],"nice":false,"zero":false},"axis":null},
  "y":{"datum":70890,"type":"quantitative","scale":{"type":"log","domain":[65972.6,70970],"nice":false}}}},
{"data":{"values":[{}]},"mark":{"type":"text","align":"left","baseline":"middle","font":"Roboto","fontSize":12,"color":"#22ab94","text":"67,541.2"},
 "encoding":{"x":{"datum":32.49,"type":"quantitative","scale":{"domain":[-4.627,128.71],"nice":false,"zero":false},"axis":null},
  "y":{"datum":70890,"type":"quantitative","scale":{"type":"log","domain":[65972.6,70970],"nice":false}}}},
{"data":{"values":[{}]},"mark":{"type":"text","align":"left","baseline":"middle","font":"Roboto","fontSize":12,"color":"#c8cbd3","text":"L"},
 "encoding":{"x":{"datum":37.58,"type":"quantitative","scale":{"domain":[-4.627,128.71],"nice":false,"zero":false},"axis":null},
  "y":{"datum":70890,"type":"quantitative","scale":{"type":"log","domain":[65972.6,70970],"nice":false}}}},
{"data":{"values":[{}]},"mark":{"type":"text","align":"left","baseline":"middle","font":"Roboto","fontSize":12,"color":"#22ab94","text":"67,366.6"},
 "encoding":{"x":{"datum":38.19,"type":"quantitative","scale":{"domain":[-4.627,128.71],"nice":false,"zero":false},"axis":null},
  "y":{"datum":70890,"type":"quantitative","scale":{"type":"log","domain":[65972.6,70970],"nice":false}}}},
{"data":{"values":[{}]},"mark":{"type":"text","align":"left","baseline":"middle","font":"Roboto","fontSize":12,"color":"#c8cbd3","text":"C"},
 "encoding":{"x":{"datum":43.28,"type":"quantitative","scale":{"domain":[-4.627,128.71],"nice":false,"zero":false},"axis":null},
  "y":{"datum":70890,"type":"quantitative","scale":{"type":"log","domain":[65972.6,70970],"nice":false}}}},
{"data":{"values":[{}]},"mark":{"type":"text","align":"left","baseline":"middle","font":"Roboto","fontSize":12,"color":"#22ab94","text":"67,477.3"},
 "encoding":{"x":{"datum":43.95,"type":"quantitative","scale":{"domain":[-4.627,128.71],"nice":false,"zero":false},"axis":null},
  "y":{"datum":70890,"type":"quantitative","scale":{"type":"log","domain":[65972.6,70970],"nice":false}}}},
{"data":{"values":[{}]},"mark":{"type":"text","align":"left","baseline":"middle","font":"Roboto","fontSize":12,"color":"#22ab94","text":"+93.9 (+0.14%)"},
 "encoding":{"x":{"datum":48.94,"type":"quantitative","scale":{"domain":[-4.627,128.71],"nice":false,"zero":false},"axis":null},
  "y":{"datum":70890,"type":"quantitative","scale":{"type":"log","domain":[65972.6,70970],"nice":false}}}},
{"data":{"values":[{}]},"mark":{"type":"text","align":"left","baseline":"middle","font":"Roboto","fontSize":12,"color":"#c8cbd3","text":"Vol"},
 "encoding":{"x":{"datum":57.1,"type":"quantitative","scale":{"domain":[-4.627,128.71],"nice":false,"zero":false},"axis":null},
  "y":{"datum":70890,"type":"quantitative","scale":{"type":"log","domain":[65972.6,70970],"nice":false}}}},
{"data":{"values":[{}]},"mark":{"type":"text","align":"left","baseline":"middle","font":"Roboto","fontSize":12,"color":"#22ab94","text":"1.8 K"},
 "encoding":{"x":{"datum":59.02,"type":"quantitative","scale":{"domain":[-4.627,128.71],"nice":false,"zero":false},"axis":null},
  "y":{"datum":70890,"type":"quantitative","scale":{"type":"log","domain":[65972.6,70970],"nice":false}}}},
{"data":{"values":[{}]},"mark":{"type":"rect","fill":"#161a25","stroke":"#3a3e4a","strokeWidth":1,"cornerRadius":4},
 "encoding":{"x":{"datum":129.1,"type":"quantitative","scale":{"domain":[-4.627,128.71],"nice":false,"zero":false},"axis":null},"x2":{"datum":134.3},
  "y":{"datum":70951,"type":"quantitative","scale":{"type":"log","domain":[65972.6,70970],"nice":false}},"y2":{"datum":70791}}},
{"data":{"values":[{}]},"mark":{"type":"text","align":"center","baseline":"middle","font":"Roboto","fontSize":12,"color":"#d1d4dc","text":"USDT"},
 "encoding":{"x":{"datum":131.69,"type":"quantitative","scale":{"domain":[-4.627,128.71],"nice":false,"zero":false},"axis":null},
  "y":{"datum":70871,"type":"quantitative","scale":{"type":"log","domain":[65972.6,70970],"nice":false}}}},
{"data":{"values":[{}]},"mark":{"type":"rect","fill":"#5d606b"},
 "encoding":{"x":{"datum":128.71,"type":"quantitative","scale":{"domain":[-4.627,128.71],"nice":false,"zero":false},"axis":null},"x2":{"datum":134.54},
  "y":{"datum":68046,"type":"quantitative","scale":{"type":"log","domain":[65972.6,70970],"nice":false}},"y2":{"datum":67948}}},
{"data":{"values":[{}]},"mark":{"type":"text","align":"left","baseline":"middle","font":"Roboto","fontSize":12,"fontWeight":"bold","color":"#ffffff","text":"67,999.9"},
 "encoding":{"x":{"datum":129.58,"type":"quantitative","scale":{"domain":[-4.627,128.71],"nice":false,"zero":false},"axis":null},
  "y":{"datum":67999.9,"type":"quantitative","scale":{"type":"log","domain":[65972.6,70970],"nice":false}}}}
]
}
